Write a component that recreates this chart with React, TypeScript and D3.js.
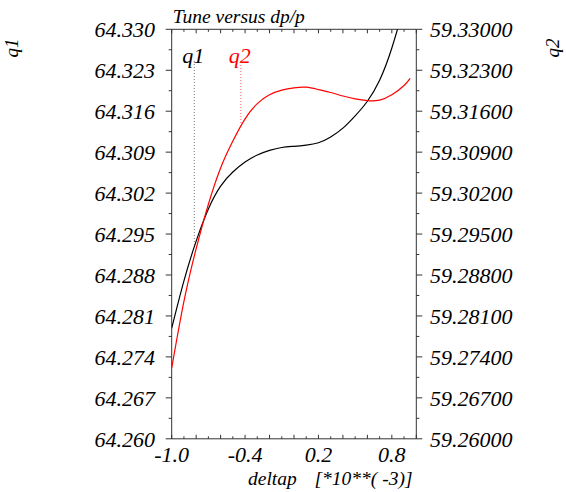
import React from "react";
import * as d3 from "d3";

const deltap = [-1.0, -0.9, -0.8, -0.7, -0.6, -0.5, -0.4, -0.3, -0.2, -0.1, 0.0, 0.1, 0.2, 0.3, 0.4, 0.5, 0.6, 0.7, 0.8, 0.9, 0.95];
const q1Values = [64.2789, 64.2870, 64.2938, 64.2993, 64.3032, 64.3056, 64.3073, 64.3085, 64.3093, 64.3098, 64.3100, 64.3102, 64.3106, 64.3116, 64.3131, 64.3152, 64.3177, 64.3213, 64.3268, 64.3342, 64.3390];
const q2Values = [59.2721, 59.2835, 59.2925, 59.3001, 59.3063, 59.3109, 59.3147, 59.3173, 59.3188, 59.3196, 59.3200, 59.3201, 59.3197, 59.3192, 59.3186, 59.3181, 59.3178, 59.3179, 59.3188, 59.3204, 59.3216];

const xTickLabels = [-1.0, -0.4, 0.2, 0.8];
const q1Ticks = [64.260, 64.267, 64.274, 64.281, 64.288, 64.295, 64.302, 64.309, 64.316, 64.323, 64.330];
const q2Ticks = [59.260, 59.267, 59.274, 59.281, 59.288, 59.295, 59.302, 59.309, 59.316, 59.323, 59.330];

const W = 566, H = 492;
const L = 171.7, R = 416.3, T = 29.3, B = 438.8;
const FONT = "'Liberation Serif', 'Times New Roman', 'DejaVu Serif', serif";

export default function App() {
  const x = d3.scaleLinear().domain([-1.0, 1.0]).range([L, R]);
  const y1 = d3.scaleLinear().domain([64.26, 64.33]).range([B, T]);
  const y2 = d3.scaleLinear().domain([59.26, 59.33]).range([B, T]);

  const line1 = d3.line<number>().x((_, i) => x(deltap[i])).y((d) => y1(d)).curve(d3.curveNatural);
  const line2 = d3.line<number>().x((_, i) => x(deltap[i])).y((d) => y2(d)).curve(d3.curveNatural);

  const xMinor = d3.range(0, 21).map((i) => -1 + i * 0.1);
  const yMinor = d3.range(0, 21).map((i) => i);

  const axisColor = "#333";

  const q1LegX = -0.815;
  const q2LegX = -0.435;
  const interp = (vals: number[], d: number) => {
    const i = d3.bisector((v: number) => v).left(deltap, d);
    const t = (d - deltap[i - 1]) / (deltap[i] - deltap[i - 1]);
    return vals[i - 1] + t * (vals[i] - vals[i - 1]);
  };

  const ts = { fontFamily: FONT, fontStyle: "italic" as const };

  return (
    <div style={{ position: "absolute", left: 0, top: 0 }}>
      <svg width={W} height={H} style={{ display: "block", background: "#fff", fontFamily: FONT }}>
        <defs>
          <clipPath id="plotclip">
            <rect x={L} y={T} width={R - L} height={B - T} />
          </clipPath>
        </defs>

        <text x={L + 1} y={23} fontSize={19.5} style={ts} fill="#000">Tune versus dp/p</text>

        <line x1={L} x2={R} y1={T} y2={T} stroke={axisColor} strokeWidth={1} />
        <line x1={L} x2={R} y1={B} y2={B} stroke={axisColor} strokeWidth={1} />
        <line x1={L} x2={L} y1={T} y2={B} stroke={axisColor} strokeWidth={1} />
        <line x1={R} x2={R} y1={T} y2={B} stroke={axisColor} strokeWidth={1} />

        {xMinor.map((d, i) => {
          const len = i % 2 === 0 ? 4 : 2.5;
          return (
            <g key={"xt" + i}>
              <line x1={x(d)} x2={x(d)} y1={B} y2={B - len} stroke={axisColor} strokeWidth={1} />
              <line x1={x(d)} x2={x(d)} y1={T} y2={T + len} stroke={axisColor} strokeWidth={1} />
            </g>
          );
        })}

        {yMinor.map((i) => {
          const v = 64.26 + i * 0.0035;
          const len = i % 2 === 0 ? 6 : 3;
          const yy = y1(v);
          return (
            <g key={"yt" + i}>
              <line x1={L} x2={L - len} y1={yy} y2={yy} stroke={axisColor} strokeWidth={1} />
              <line x1={R} x2={R + len} y1={yy} y2={yy} stroke={axisColor} strokeWidth={1} />
            </g>
          );
        })}

        {q1Ticks.map((v) => (
          <text key={"l" + v} x={155} y={y1(v)} dy="0.35em" textAnchor="end" fontSize={22} style={ts} fill="#000">
            {v.toFixed(3)}
          </text>
        ))}
        {q2Ticks.map((v) => (
          <text key={"r" + v} x={430} y={y2(v)} dy="0.35em" textAnchor="start" fontSize={22} style={ts} fill="#000">
            {v.toFixed(5)}
          </text>
        ))}
        {xTickLabels.map((d) => (
          <text key={"x" + d} x={x(d)} y={462} textAnchor="middle" fontSize={22} style={ts} fill="#000">
            {d.toFixed(1)}
          </text>
        ))}

        <text x={248} y={485} fontSize={19.5} style={ts} fill="#000">deltap</text>
        <text x={314.5} y={485} fontSize={19.5} style={ts} fill="#000">[*10**( -3)]</text>

        <text transform="translate(18,48) rotate(-90)" textAnchor="middle" fontSize={19} style={ts} fill="#000">q1</text>
        <text transform="translate(559,48) rotate(-90)" textAnchor="middle" fontSize={19} style={ts} fill="#000">q2</text>

        <g clipPath="url(#plotclip)">
          <path d={line1(q1Values) || ""} fill="none" stroke="#000" strokeWidth={1.2} />
          <path d={line2(q2Values) || ""} fill="none" stroke="#ff0000" strokeWidth={1.2} />
        </g>

        <text x={x(q1LegX) - 1} y={63} textAnchor="middle" fontSize={22} style={ts} fill="#000">q1</text>
        <line x1={x(q1LegX)} x2={x(q1LegX)} y1={61} y2={y1(interp(q1Values, q1LegX))} stroke="#555" strokeWidth={0.8} strokeDasharray="1,2" />
        <text x={x(q2LegX) - 1} y={63} textAnchor="middle" fontSize={22} style={ts} fill="#ff0000">q2</text>
        <line x1={x(q2LegX)} x2={x(q2LegX)} y1={62} y2={y2(interp(q2Values, q2LegX))} stroke="#ff4040" strokeWidth={0.8} strokeDasharray="1,2" />
      </svg>
    </div>
  );
}
